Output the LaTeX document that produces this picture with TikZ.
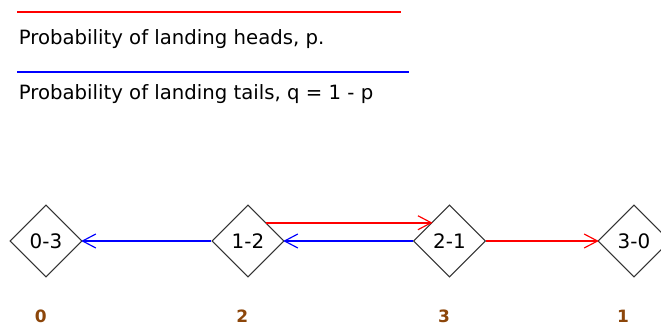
\documentclass[tikz,border=0pt]{standalone}
\usepackage{fontspec}
\setmainfont{DejaVu Sans}
\usetikzlibrary{shapes.geometric,calc}
\definecolor{scorebrown}{RGB}{140,70,10}
\begin{document}
\begin{tikzpicture}[
	state/.style={draw=black!80,line width=0.9pt,shape=diamond,inner sep=0pt,
		minimum width=2.16cm,minimum height=2.16cm,font=\fontsize{17}{19}\selectfont},
	headline/.style={red,line width=1.4pt},
	tailline/.style={blue,line width=1.4pt},
	score/.style={scorebrown,anchor=base,font=\fontsize{14.5}{16}\selectfont\bfseries},
	legend/.style={anchor=base west,inner sep=0pt,font=\fontsize{16.8}{19}\selectfont}]
	
	\useasboundingbox (0,0) rectangle (19.83,9.81);
	
	% Legend
	\coordinate (hA) at (0.51,9.45);
	\coordinate (hB) at (12.03,9.45);
	\coordinate (tA) at (0.51,7.65);
	\coordinate (tB) at (12.27,7.65);
	\draw[headline] (hA)--(hB);
	\draw[tailline] (tA)--(tB);
	\node[legend] (headtxt) at (0.56,8.475) {Probability of landing heads, p.};
	\node[legend] (tailtxt) at (0.56,6.81) {Probability of landing tails, q = 1 - p};
	
	% States
	\node[state] (n03) at (1.38,2.58) {0-3};
	\node[state] (n12) at (7.44,2.58) {1-2};
	\node[state] (n21) at (13.485,2.58) {2-1};
	\node[state] (n30) at (19.02,2.58) {3-0};
	
	% Arrows heads
	\coordinate (h1s) at ($(n12.north)!0.5!(n12.east)$);
	\coordinate (h1e) at ($(n21.north)!0.5!(n21.west)$);
	\draw[headline] (h1s) -- (h1e);
	\draw[headline] (n21.east) -- (n30.west);
	\foreach \p in {h1e,n30.west}
		\draw[headline,line width=1pt] ($(\p)+(-0.4,0.21)$) -- (\p) -- ($(\p)+(-0.4,-0.21)$);
	
	% Arrows tails
	\draw[tailline] (n12.west) -- (n03.east);
	\draw[tailline] (n21.west) -- (n12.east);
	\foreach \p in {n03.east,n12.east}
		\draw[tailline,line width=1pt] ($(\p)+(0.4,0.21)$) -- (\p) -- ($(\p)+(0.4,-0.21)$);
	
	% Scores
	\node[score] (s03) at (1.22,0.14) {0};
	\node[score] (s12) at (7.27,0.14) {2};
	\node[score] (s21) at (13.32,0.14) {3};
	\node[score] (s30) at (18.69,0.14) {1};
	
\end{tikzpicture}
\end{document}
